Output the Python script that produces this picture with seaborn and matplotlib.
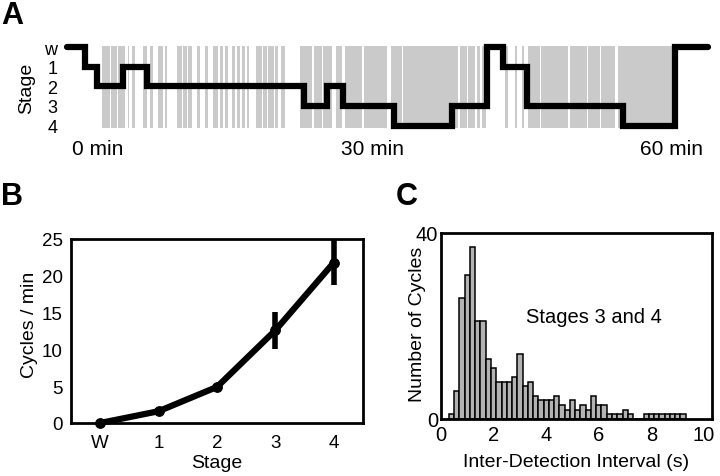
import numpy as np
import pandas as pd
import matplotlib
matplotlib.use('Agg')
import matplotlib.pyplot as plt
import seaborn as sns

# --- A: hypnogram (time in min, stage 0=W .. 4) ---
hyp_time = [-3.5, -1.6, -0.35, 2.45, 4.95, 21.35, 23.8, 25.5, 30.85, 36.9, 40.55, 42.3, 44.75, 54.9, 60.3, 63.8]
hyp_stage = [0, 1, 2, 1, 2, 3, 2, 3, 4, 3, 0, 1, 3, 4, 0, 0]
stage_labels = ['w', '1', '2', '3', '4']

# detection periods (grey stripes), min
stripe_start = [0.2, 1.2, 1.9, 2.9, 3.4, 4.5, 5.2, 6.1, 6.8, 8.05, 8.75, 9.25, 10.15, 11.0, 11.9,
                12.6, 13.1, 13.8, 14.35, 14.85, 15.4, 16.35, 17.1, 17.65, 18.35, 19.0, 21.0, 22.4,
                23.4, 24.8, 25.7, 27.7, 30.5, 31.8, 37.75, 38.6, 39.5, 40.05, 42.5, 43.5, 44.3,
                44.9, 46.3, 49.3, 51.2, 52.6, 54.35]
stripe_end = [1.05, 1.75, 2.6, 3.05, 3.65, 4.9, 5.6, 6.65, 7.0, 8.55, 9.1, 9.6, 10.5, 11.35, 12.4,
              12.95, 13.45, 14.15, 14.7, 15.2, 15.65, 16.95, 17.5, 18.2, 18.7, 19.4, 22.2, 23.25,
              24.3, 25.35, 27.45, 30.1, 31.65, 37.6, 38.45, 39.35, 39.85, 40.5, 42.85, 43.7, 44.5,
              46.15, 49.1, 51.05, 52.45, 54.0, 60.0]

# --- B: detection rate per stage ---
stage_names = ['W', '1', '2', '3', '4']
rate = [0.0, 1.6, 4.9, 12.6, 21.8]
rate_err = [0.0, 0.2, 0.4, 2.5, 3.1]

# --- C: inter-detection interval histogram, stages 3 and 4 (0.2 s bins from 0.3 s) ---
counts = [1, 6, 26, 31, 37, 21, 21, 13, 11, 8, 8, 8, 9, 14, 7, 8, 5, 4, 4, 4, 5, 3, 2,
          4, 2, 3, 2, 5, 3, 3, 1, 1, 1, 2, 1, 0, 0, 1, 1, 1, 1, 1, 1, 1, 1]
bin_start = 0.3
bin_w = 0.2

sns.set_style('white')
plt.rcParams['font.family'] = ['Liberation Sans', 'DejaVu Sans']
plt.rcParams.update({'text.color': 'black', 'axes.labelcolor': 'black',
                     'xtick.color': 'black', 'ytick.color': 'black'})

W, H = 720, 477
fig = plt.figure(figsize=(W / 100, H / 100), dpi=100)


def px_axes(l, t, r, b):
    return fig.add_axes([l / W, 1 - b / H, (r - l) / W, (b - t) / H])


def px_text(x, y, s, **kw):
    fig.text(x / W, 1 - y / H, s, **kw)


# panel A
axA = px_axes(60, 40, 712, 135)
widths = np.subtract(stripe_end, stripe_start)
axA.broken_barh(list(zip(stripe_start, widths)), (-0.05, 4.15), facecolor='#cacaca', lw=0)
axA.step(hyp_time, hyp_stage, where='post', color='black', lw=4.5, solid_joinstyle='miter')
axA.set_xlim(-4.2, 64.2)
axA.set_ylim(4.43, -0.41)
axA.set_xticks([])
axA.set_yticks(range(5))
axA.set_yticklabels(stage_labels)
axA.tick_params(axis='y', length=0, pad=2, labelsize=13)
for s in axA.spines.values():
    s.set_visible(False)
px_text(27, 88, 'Stage', rotation=90, ha='center', va='center', fontsize=14)
px_text(98, 150, '0 min', ha='center', va='center', fontsize=15)
px_text(372, 150, '30 min', ha='center', va='center', fontsize=15)
px_text(672, 150, '60 min', ha='center', va='center', fontsize=15)

# panel B
axB = px_axes(71, 240, 363, 424)
xpos = list(range(len(stage_names)))
sns.lineplot(x=xpos, y=rate, ax=axB, color='black', lw=4.5, marker='o', ms=7,
             mec='black', mfc='black', clip_on=False)
axB.errorbar(xpos, rate, yerr=rate_err, fmt='none', ecolor='black', elinewidth=4, capsize=0)
axB.set_xlim(-0.5, 4.5)
axB.set_ylim(0, 25)
axB.set_xticks(xpos)
axB.set_xticklabels(stage_names)
axB.set_yticks([0, 5, 10, 15, 20, 25])
axB.tick_params(length=0, labelsize=13.5)
axB.tick_params(axis='x', pad=8)
axB.tick_params(axis='y', pad=6)
axB.set_xlabel('Stage', fontsize=14, labelpad=2)
axB.set_ylabel('')
px_text(30, 325, 'Cycles / min', rotation=90, ha='center', va='center', fontsize=14)
for s in axB.spines.values():
    s.set_linewidth(2)
    s.set_color('black')

# panel C
axC = px_axes(441, 234, 712, 420)
hist_df = pd.DataFrame({'t': bin_start + (np.arange(len(counts)) + 0.5) * bin_w, 'n': counts})
sns.histplot(data=hist_df, x='t', weights='n', binwidth=bin_w,
             binrange=(bin_start, bin_start + len(counts) * bin_w),
             ax=axC, color='#b2b2b2', edgecolor='black', linewidth=1.1, alpha=1)
axC.set_xlim(0, 10.3)
axC.set_ylim(0, 40)
axC.set_xticks([0, 2, 4, 6, 8, 10])
axC.set_yticks([0, 40])
axC.tick_params(length=0, labelsize=14.5)
axC.tick_params(axis='x', pad=4)
axC.tick_params(axis='y', pad=2)
axC.set_xlabel('Inter-Detection Interval (s)', fontsize=14, labelpad=7)
axC.set_ylabel('')
px_text(417, 324, 'Number of Cycles', rotation=90, ha='center', va='center', fontsize=14)
axC.text(5.8, 22, 'Stages 3 and 4', ha='center', va='center', fontsize=14.5)
for s in axC.spines.values():
    s.set_linewidth(2)
    s.set_color('black')

# panel letters
px_text(12, 16, 'A', ha='center', va='center', fontsize=22, fontweight='bold')
px_text(12, 197, 'B', ha='center', va='center', fontsize=22, fontweight='bold')
px_text(407, 197, 'C', ha='center', va='center', fontsize=22, fontweight='bold')

fig.savefig('out.png', dpi=100)
